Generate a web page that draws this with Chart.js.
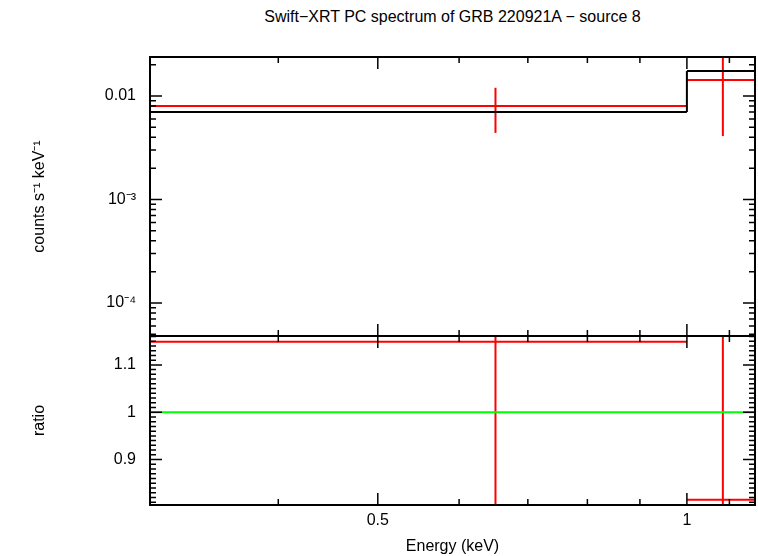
<!DOCTYPE html>
<html><head><meta charset="utf-8">
<script src="https://cdn.jsdelivr.net/npm/chart.js@4/dist/chart.umd.min.js"></script>
<style>body{margin:0;background:#fff;width:758px;height:556px;position:relative;overflow:hidden;font-family:"Liberation Sans",Arial,sans-serif}
canvas{position:absolute;left:0;top:0}
#t{position:absolute;top:8px;left:150px;width:605px;text-align:center;font-size:16px}</style>
</head><body>
<div id="t">Swift−XRT PC spectrum of GRB 220921A − source 8</div>
<canvas id="c1" width="758" height="556"></canvas>
<canvas id="c2" width="758" height="556"></canvas>
<script>
// data
const binEdges=[0.3,1.0,1.165];
const modelCounts=[0.0070,0.0174];
const dataCounts=[0.0080,0.0143];
const dataX=[0.651,1.084];
const dataLo=[0.0044,0.0041];
const dataHi=[0.0120,0.0300];
const ratio=[1.149,0.815];
const ratioLo=[0.70,0.70];
const ratioHi=[1.30,1.30];
const xMajor=[0.5,1];
const xMinor=[0.3,0.4,0.6,0.7,0.8,0.9,1.1];
const yMajor=[1e-4,1e-3,1e-2];
const yMajorLabels={"0.0001":"10⁻⁴","0.001":"10⁻³","0.01":"0.01"};
const rMajor=[0.9,1,1.1];

const font={family:"Liberation Sans",size:16};
function steps(vals){const out=[];vals.forEach((v,i)=>{out.push({x:binEdges[i],y:v});out.push({x:binEdges[i+1],y:v});});return out;}
function segs(vals,color){return vals.map((v,i)=>({data:[{x:binEdges[i],y:v},{x:binEdges[i+1],y:v}],borderColor:color,borderWidth:2,pointRadius:0}));}
function errs(lo,hi,color){return dataX.map((x,i)=>({data:[{x:x,y:lo[i]},{x:x,y:hi[i]}],borderColor:color,borderWidth:2,pointRadius:0}));}

function tickPlugin(xM,xm,yM,ym,ytop,ybot){return {id:'tk',afterDraw(ch){
 const c=ch.ctx,a=ch.chartArea,xs=ch.scales.x,ys=ch.scales.y;
 c.save();c.strokeStyle='#000';c.lineWidth=1.5;c.beginPath();
 const vx=(arr,L)=>arr.forEach(v=>{const p=xs.getPixelForValue(v);if(p<a.left-1||p>a.right+1)return;
  if(ybot){c.moveTo(p,a.bottom);c.lineTo(p,a.bottom-L);} if(ytop){c.moveTo(p,a.top);c.lineTo(p,a.top+L);}});
 const vy=(arr,L)=>arr.forEach(v=>{const p=ys.getPixelForValue(v);if(p<a.top-1||p>a.bottom+1)return;
  c.moveTo(a.left,p);c.lineTo(a.left+L,p);c.moveTo(a.right,p);c.lineTo(a.right-L,p);});
 vx(xM,12);vx(xm,6);vy(yM,12);vy(ym,6);c.stroke();
 c.lineWidth=2;c.strokeRect(a.left,a.top,a.right-a.left,a.bottom-a.top);c.restore();}};}

const yMinor=[];for(const d of [1e-5,1e-4,1e-3,1e-2])for(let k=2;k<10;k++)yMinor.push(d*k);
const rMinor=[];for(let v=0.80;v<=1.17;v+=0.01)rMinor.push(+v.toFixed(2));

new Chart(document.getElementById('c1'),{type:'line',
 data:{datasets:[...segs(modelCounts,'#000'),{data:[{x:1.0,y:modelCounts[0]},{x:1.0,y:modelCounts[1]}],borderColor:'#000',borderWidth:2,pointRadius:0},...segs(dataCounts,'#f00'),...errs(dataLo,dataHi,'#f00')]},
 options:{responsive:false,animation:false,layout:{padding:{left:0,right:3,top:57,bottom:220}},
  plugins:{legend:{display:false},tooltip:{enabled:false}},
  scales:{x:{type:'logarithmic',min:0.3,max:1.165,ticks:{display:false},grid:{display:false},border:{display:false},afterFit(s){s.height=0;}},
   y:{type:'logarithmic',min:4.8e-5,max:0.0238,afterFit(s){s.width=150;},afterBuildTicks(s){s.ticks=yMajor.map(v=>({value:v}));},
    ticks:{font,color:'#000',padding:14,callback:(v)=>yMajorLabels[String(v)]||''},grid:{display:false,drawTicks:false},border:{display:false},
    title:{display:true,text:'counts s⁻¹ keV⁻¹',font,color:'#000',padding:{top:30,bottom:10}}}}},
 plugins:[tickPlugin(xMajor,xMinor,yMajor,yMinor,true,true)]});

new Chart(document.getElementById('c2'),{type:'line',
 data:{datasets:[{data:[{x:0.3,y:1},{x:1.165,y:1}],borderColor:'#0f0',borderWidth:2,pointRadius:0},...segs(ratio,'#f00'),...errs(ratioLo,ratioHi,'#f00')]},
 options:{responsive:false,animation:false,layout:{padding:{left:0,right:3,top:336,bottom:0}},
  plugins:{legend:{display:false},tooltip:{enabled:false}},
  scales:{x:{type:'logarithmic',min:0.3,max:1.165,afterFit(s){s.height=51;},afterBuildTicks(s){s.ticks=xMajor.map(v=>({value:v}));},
    ticks:{font,color:'#000',padding:6,maxRotation:0,callback:(v)=>String(v)},grid:{display:false,drawTicks:false},border:{display:false},
    title:{display:true,text:'Energy (keV)',font,color:'#000',padding:{top:0,bottom:0}}},
   y:{type:'linear',min:0.804,max:1.161,afterFit(s){s.width=150;},afterBuildTicks(s){s.ticks=rMajor.map(v=>({value:v}));},
    ticks:{font,color:'#000',padding:14,callback:(v)=>String(v)},grid:{display:false,drawTicks:false},border:{display:false},
    title:{display:true,text:'ratio',font,color:'#000',padding:{top:30,bottom:10}}}}},
 plugins:[tickPlugin(xMajor,xMinor,rMajor,rMinor,true,true)]});
</script></body></html>
